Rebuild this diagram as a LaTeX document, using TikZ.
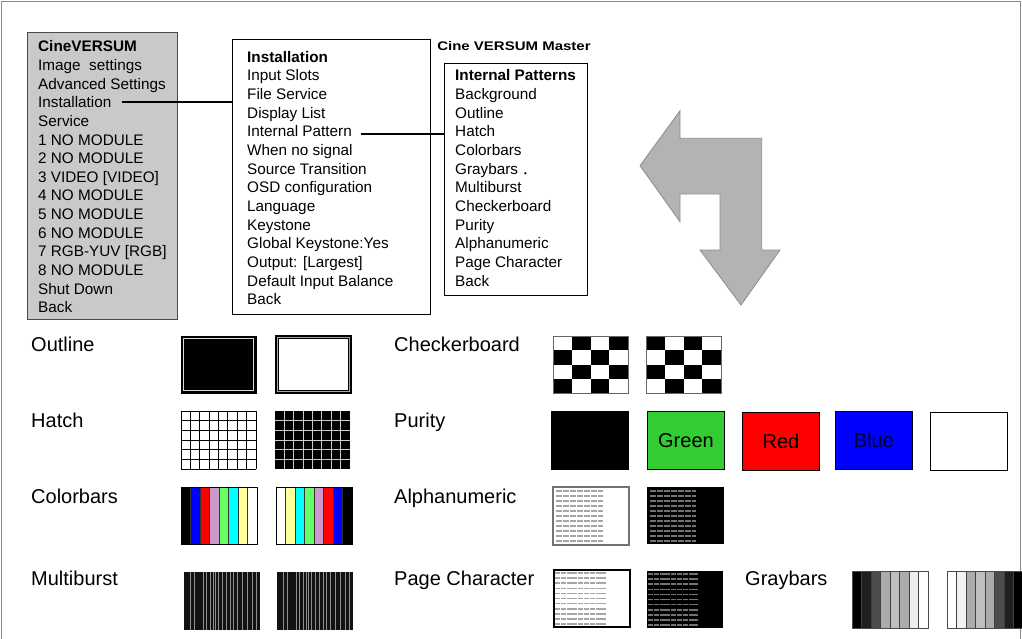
\documentclass[tikz,border=0pt]{standalone}
\usepackage{fontspec}
\setmainfont{Liberation Sans}
\usepackage{tikz}
\usetikzlibrary{positioning,calc}
\definecolor{cFrame}{HTML}{8A8A8A}
\definecolor{cMenu}{HTML}{C9C9C9}
\definecolor{cMenuLine}{HTML}{4A4A4A}
\definecolor{cArrow}{HTML}{B3B3B3}
\definecolor{cArrowLine}{HTML}{8C8C8C}
\definecolor{cViolet}{HTML}{CC99CC}
\definecolor{cLime}{HTML}{66FF66}
\definecolor{cLemon}{HTML}{FFFF99}
\definecolor{cAqua}{HTML}{00FFFF}
\definecolor{cRed}{HTML}{FF0000}
\definecolor{cBlue}{HTML}{0000FF}
\definecolor{cGreen}{HTML}{33CC33}
\definecolor{cGlyph}{HTML}{A5A5A5}
\definecolor{cBurst}{HTML}{8F8F8F}
\tikzset{
  menubox/.style={draw=#1,anchor=north west,inner sep=0pt,line width=0.9pt},
  menubox/.default=black,
  item/.style={anchor=base west,inner sep=0pt,font=\fontsize{15.3}{18}\selectfont},
  head/.style={item,font=\fontsize{15.3}{18}\selectfont\bfseries},
  link/.style={line width=2pt,black},
  lbl/.style={anchor=base west,inner sep=0pt,font=\fontsize{20}{24}\selectfont},
  tileframe/.style={draw=black,line width=0.9pt},
  swatch/.style={tileframe,anchor=north west,minimum width=77pt,minimum height=58pt,inner sep=0pt,font=\fontsize{20}{24}\selectfont},
  glyphs/.style={draw=cGlyph,line width=1.2pt,dash pattern=on 6pt off 1pt},
}

\begin{document}
\begin{tikzpicture}[x=1pt,y=-1pt]
    \useasboundingbox (0,0) rectangle (1022,639);
    % page frame
    \draw[cFrame] (1.5,641) -- (1.5,1.5) -- (1020.5,1.5) -- (1020.5,641);
    % main menu
    \node[menubox=cMenuLine,fill=cMenu,minimum width=150pt,minimum height=287pt] (mainbox) at (27,32) {};
    \node[head] (main-0) at (38,52) {CineVERSUM};
    \foreach \t [count=\i] in {Image\ \ settings,Advanced Settings,Installation,Service,1 NO MODULE,2 NO MODULE,3 VIDEO [VIDEO],4 NO MODULE,5 NO MODULE,6 NO MODULE,7 RGB-YUV [RGB],8 NO MODULE,Shut Down,Back}{
      \node[item] (main-\i) at (38,52+18.62*\i) {\t};}
    % installation menu
    \node[menubox,fill=white,minimum width=198pt,minimum height=275pt] (instbox) at (232,39) {};
    \node[head] (inst-0) at (247,62.3) {Installation};
    \foreach \t [count=\i] in {Input Slots,File Service,Display List,Internal Pattern,When no signal,Source Transition,OSD configuration,Language,Keystone,Global Keystone:Yes,Output: [Largest],Default Input Balance,Back}{
      \node[item] (inst-\i) at (247,62.3+18.65*\i) {\t};}
    % pattern menu
    \node[anchor=base,inner sep=0pt,font=\fontsize{12.5}{15}\selectfont\bfseries] (master) at (514,50.7) {\scalebox{1.2}[1]{Cine VERSUM Master}};
    \node[menubox,fill=white,minimum width=143pt,minimum height=232pt] (patbox) at (444,63) {};
    \node[head] (pat-0) at (455,81) {Internal Patterns};
    \foreach \t [count=\i] in {Background,Outline,Hatch,Colorbars,Graybars,Multiburst,Checkerboard,Purity,Alphanumeric,Page Character,Back}{
      \node[item] (pat-\i) at (455,81+18.64*\i) {\t};}
    \fill (pat-5.east) ++(7pt,-3pt) circle (1.3pt);
    % links
    \coordinate (inend) at ([xshift=10pt]main-3.east);
    \coordinate (ipend) at ([xshift=9pt,yshift=-2.5pt]inst-4.east);
    \draw[link] (inend) -- (instbox.west |- inend);
    \draw[link] (ipend) -- (patbox.west |- ipend);
    % turn arrow
    \draw[cArrowLine,fill=cArrow,line width=0.8pt,line join=miter]
      (640,165.7) -- (680,110.7) -- (680,138.3) -- (761.7,138.3) -- (761.7,250) -- (780,250)
      -- (741,305) -- (700,250) -- (720,250) -- (720,194) -- (680,194) -- (680,221.7) -- cycle;
    % pattern labels
    \foreach \x/\y/\t in {31/351/Outline,31/427/Hatch,31/503/Colorbars,31/585/Multiburst,
                          394/351/Checkerboard,394/427/Purity,394/503/Alphanumeric,394/585/Page Character,745/585/Graybars}{
      \node[lbl] at (\x,\y) {\t};}
    % outline
    \begin{scope}[shift={(181,336)}]
      \fill[black] (0,0) rectangle (75,57);
      \draw[black!15,line width=1.1pt] (2.3,2.3) rectangle (72.7,54.7);
      \draw[tileframe] (0,0) rectangle (75,57);
    \end{scope}
    \begin{scope}[shift={(276,336)}]
      \draw[black,line width=1.1pt] (0,0) rectangle (75,57);
      \draw[black!35,line width=0.8pt] (1.4,1.4) rectangle (73.6,55.6);
      \draw[black,line width=0.9pt] (2.6,2.6) rectangle (72.4,54.4);
    \end{scope}
    % hatch
    \begin{scope}[shift={(181,411)}]
      \foreach \i in {0,...,8}{\draw[black,line width=0.9pt] (\i*9.375,0) -- ++(0,58);}
      \foreach \j in {0,...,6}{\draw[black,line width=0.9pt] (0,\j*9.667) -- ++(75,0);}
    \end{scope}
    \begin{scope}[shift={(275,411)}]
      \fill[black] (0,0) rectangle (75,58);
      \foreach \i in {1,...,7}{\draw[black!20,line width=1pt] (\i*9.375,0) -- ++(0,58);}
      \foreach \j in {1,...,5}{\draw[black!20,line width=1pt] (0,\j*9.667) -- ++(75,0);}
    \end{scope}
    % colorbars
    \foreach \x/\list in {181/{black,cBlue,cRed,cViolet,cLime,cAqua,cLemon,white},276/{white,cLemon,cAqua,cLime,cViolet,cRed,cBlue,black}}{
      \begin{scope}[shift={(\x,487)}]
        \foreach \c [count=\i from 0] in \list {\fill[\c] (\i*9.5,0) rectangle ++(9.5,57);}
        \foreach \i in {1,...,7}{\draw[black!80,line width=0.8pt] (\i*9.5,0) -- ++(0,57);}
        \draw[tileframe] (0,0) rectangle (76,57);
      \end{scope}}
    % multiburst
    \foreach \x in {184,277}{
      \begin{scope}[shift={(\x,572)}]
        \fill[black!93] (0,0) rectangle (76,58);
        \foreach \l in {6,10,19.3,22,26,29.3,31.7,34.7,38,42.7,46.7,49.3,53.3,58.7,63.3,68.7,72.7}{
          \draw[cBurst,line width=0.6pt] (\l,0) -- ++(0,58);}
      \end{scope}}
    % checkerboard
    \foreach \x/\p in {553/1,646/0}{
      \begin{scope}[shift={(\x,336)}]
        \fill[white] (0,0) rectangle (75,57);
        \foreach \i in {0,...,3}{\foreach \j in {0,...,3}{
          \pgfmathtruncatemacro\odd{mod(\i+\j,2)}
          \ifnum\odd=\p \fill[black] (\i*18.75,\j*14.25) rectangle ++(18.75,14.25); \fi}}
        \draw[black!60,line width=0.6pt] (0,0) rectangle (75,57);
      \end{scope}}
    % purity
    \node[swatch,fill=black] (pur-1) at (551,411) {};
    \node[swatch,fill=cGreen] (pur-2) at (647,411) {Green};
    \node[swatch,fill=cRed] (pur-3) at (742,412) {Red};
    \node[swatch,fill=cBlue,text=black!85!blue] (pur-4) at (835,411) {Blue};
    \node[swatch,fill=white] (pur-5) at (930,412) {};
    % alphanumeric
    \begin{scope}[shift={(553,487)}]
      \draw[black!55,line width=1.4pt] (0,0) rectangle (76,58);
      \foreach \k in {0,...,10}{\draw[glyphs] (3,4+5*\k) -- (50,4+5*\k);}
    \end{scope}
    \begin{scope}[shift={(647,487)}]
      \fill[black] (0,0) rectangle (77,57);
      \foreach \k in {0,...,10}{\draw[glyphs,draw=black!55] (3,4+5*\k) -- (49,4+5*\k);}
    \end{scope}
    % page character
    \begin{scope}[shift={(554,570)}]
      \draw[black,line width=1.2pt] (0,0) rectangle (76,57);
      \foreach \k in {0,...,10}{\draw[glyphs,line width=1.6pt,dash pattern=on 5pt off 0.8pt] (1,3+5.1*\k) -- (52,3+5.1*\k);}
    \end{scope}
    \begin{scope}[shift={(647,571)}]
      \fill[black] (0,0) rectangle (76,57);
      \foreach \k in {0,...,10}{\draw[glyphs,draw=black!55,line width=1.6pt,dash pattern=on 5pt off 0.8pt] (1,3+5.1*\k) -- (51,3+5.1*\k);}
    \end{scope}
    % graybars
    \foreach \x/\list in {852/{black,black!88,black!70,black!33,black!25,black!33,black!7,white},947/{white,black!5,black!33,black!25,black!33,black!70,black!88,black}}{
      \begin{scope}[shift={(\x,571)}]
        \foreach \c [count=\i from 0] in \list {\fill[\c] (\i*9.5,0) rectangle ++(9.5,57);}
        \foreach \i in {1,...,7}{\draw[black!75,line width=0.7pt] (\i*9.5,0) -- ++(0,57);}
        \draw[black!70,line width=0.9pt] (0,0) rectangle (76,57);
      \end{scope}}
  \end{tikzpicture}
\end{document}
